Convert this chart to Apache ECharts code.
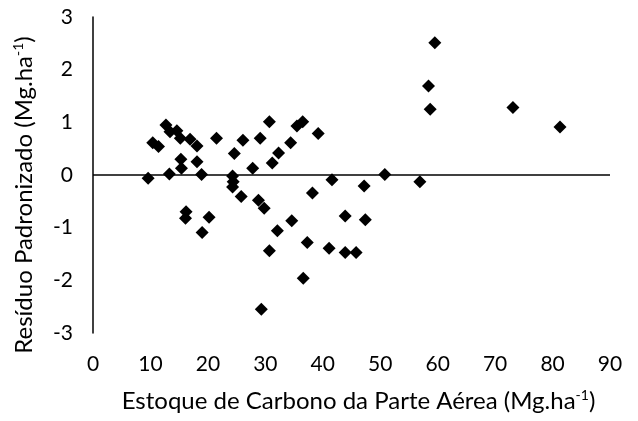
<!DOCTYPE html>
<html>
<head>
<meta charset="utf-8">
<script src="https://cdn.jsdelivr.net/npm/echarts@6/dist/echarts.min.js"></script>
<style>html,body{margin:0;padding:0;background:#fff}#c{width:638px;height:421px}</style>
</head>
<body>
<div id="c"></div>
<script>
var xValues = [9.6,10.4,11.4,12.7,14.6,13.4,15.2,16.9,18.1,15.3,15.4,18.1,21.5,26.1,29.1,30.7,24.6,31.2,32.3,27.8,13.3,18.9,24.3,24.4,24.3,25.8,28.8,29.8,16.2,16.1,20.2,19.0,32.1,30.7,29.3,35.5,36.5,39.2,34.4,41.6,50.8,56.9,47.2,38.2,43.9,47.4,34.6,37.3,41.1,43.9,45.8,36.6,58.4,58.7,59.5,73.1,81.3];
var yValues = [-0.06,0.61,0.54,0.95,0.84,0.82,0.70,0.68,0.55,0.30,0.13,0.25,0.70,0.66,0.70,1.01,0.41,0.23,0.42,0.13,0.02,0.01,-0.02,-0.13,-0.23,-0.41,-0.48,-0.63,-0.70,-0.82,-0.80,-1.09,-1.06,-1.44,-2.55,0.93,1.01,0.79,0.61,-0.09,0.01,-0.13,-0.21,-0.34,-0.78,-0.85,-0.87,-1.28,-1.39,-1.47,-1.47,-1.96,1.69,1.25,2.51,1.28,0.91];
var xTicks = [0,10,20,30,40,50,60,70,80,90];
var yTicks = [-3,-2,-1,0,1,2,3];

var pts = xValues.map(function(x,i){return [x,yValues[i]];});
var FONT = 'Lato';
var chart = echarts.init(document.getElementById('c'), null, {renderer:'canvas'});
chart.setOption({
  animation:false,
  backgroundColor:'#fff',
  grid:{left:93,right:28,top:17,bottom:88,containLabel:false},
  xAxis:{
    type:'value', min:xTicks[0], max:xTicks[xTicks.length-1], interval:10,
    axisLine:{show:false}, axisTick:{show:false}, splitLine:{show:false},
    axisLabel:{color:'#000',fontFamily:FONT,fontSize:21,margin:21},
    name:'{a|Estoque de Carbono da Parte Aérea (Mg.ha}{s|-1}{a|)}',
    nameLocation:'middle', nameGap:55,
    nameTextStyle:{padding:[0,0,0,14],rich:{a:{fontFamily:FONT,fontSize:24,color:'#000'},s:{fontFamily:FONT,fontSize:14,color:'#000',padding:[0,0,12,0]}}}
  },
  yAxis:{
    type:'value', min:yTicks[0], max:yTicks[yTicks.length-1], interval:1,
    axisLine:{show:true,onZero:false,lineStyle:{color:'#000',width:1.5}},
    axisTick:{show:false}, splitLine:{show:false},
    axisLabel:{color:'#000',fontFamily:FONT,fontSize:21,margin:20},
    name:'{a|Resíduo Padronizado (Mg.ha}{s|-1}{a|)}',
    nameLocation:'middle', nameGap:56,
    nameTextStyle:{padding:[0,40,0,0],rich:{a:{fontFamily:FONT,fontSize:24,color:'#000'},s:{fontFamily:FONT,fontSize:14,color:'#000',padding:[0,0,12,0]}}}
  },
  series:[{
    type:'scatter', data:pts, symbol:'diamond', symbolSize:[13,13],
    itemStyle:{color:'#000',opacity:1},
    emphasis:{disabled:true},
    markLine:{silent:true,symbol:['none','none'],label:{show:false},
      lineStyle:{color:'#000',width:1.5,type:'solid'},data:[{yAxis:0}]}
  }]
});
</script>
</body>
</html>
